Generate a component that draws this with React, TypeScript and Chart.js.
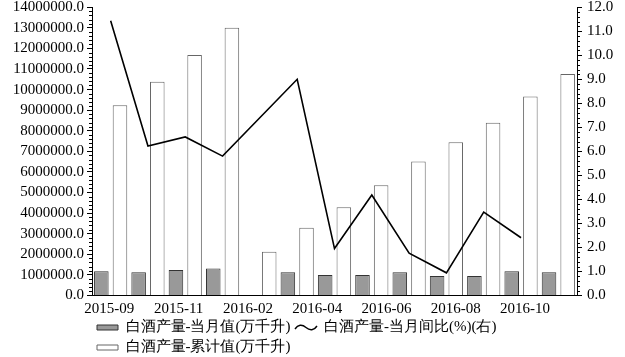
import React, { useEffect, useRef } from "react";
import { Chart, registerables } from "chart.js";

Chart.register(...registerables);

const categories = ["2015-09", "2015-10", "2015-11", "2015-12", "2016-02", "2016-03", "2016-04", "2016-05", "2016-06", "2016-07", "2016-08", "2016-09", "2016-10"];
const tickLabels = ["2015-09", "", "2015-11", "", "2016-02", "", "2016-04", "", "2016-06", "", "2016-08", "", "2016-10", ""];
const monthlyValues = [1170000, 1120000, 1230000, 1310000, null, 1120000, 990000, 990000, 1130000, 940000, 940000, 1170000, 1120000];
const cumulativeValues = [9240000, 10380000, 11680000, 13010000, 2120000, 3290000, 4280000, 5350000, 6500000, 7440000, 8390000, 9660000, 10760000];
const yoyValues = [11.44, 6.22, 6.6, 5.8, null, 9.0, 1.95, 4.18, 1.76, 0.94, 3.47, 2.4, null];

const seriesNames = ["白酒产量-当月值(万千升)", "白酒产量-当月间比(%)(右)", "白酒产量-累计值(万千升)"];

const FONT = '"Liberation Serif", "Times New Roman", Times, serif';

const minorTicks = {
  id: "minorTicks",
  afterDraw(chart: any) {
    const { ctx, chartArea } = chart;
    const y = chart.scales.y;
    const y1 = chart.scales.y1;
    ctx.save();
    ctx.strokeStyle = "#000";
    ctx.lineWidth = 1;
    ctx.beginPath();
    for (let i = 0; i <= 70; i++) {
      if (i % 5 === 0) continue;
      const py = Math.round(y.getPixelForValue(i * 200000)) + 0.5;
      ctx.moveTo(chartArea.left - 3, py);
      ctx.lineTo(chartArea.left, py);
    }
    for (let i = 0; i <= 60; i++) {
      if (i % 5 === 0) continue;
      const py = Math.round(y1.getPixelForValue(i * 0.2)) + 0.5;
      ctx.moveTo(chartArea.right, py);
      ctx.lineTo(chartArea.right + 3, py);
    }
    ctx.stroke();
    ctx.restore();
  },
};

function makeWave() {
  const c = document.createElement("canvas");
  c.width = 24;
  c.height = 9;
  const g = c.getContext("2d")!;
  g.strokeStyle = "#000";
  g.lineWidth = 1.4;
  g.beginPath();
  g.moveTo(1, 6);
  g.bezierCurveTo(4, 1.5, 8, 1, 12, 4.5);
  g.bezierCurveTo(16, 8, 20, 7.5, 23, 3);
  g.stroke();
  return c;
}

export default function App() {
  const ref = useRef<HTMLCanvasElement>(null);

  useEffect(() => {
    const wave = makeWave();
    const chart = new Chart(ref.current!, {
      type: "bar",
      data: {
        labels: categories,
        datasets: [
          {
            type: "bar",
            label: seriesNames[0],
            data: monthlyValues,
            backgroundColor: "#999999",
            borderColor: "#333333",
            borderWidth: 1,
            categoryPercentage: 1,
            barPercentage: 0.78,
            xAxisID: "x",
            yAxisID: "y",
          },
          {
            type: "line",
            label: seriesNames[1],
            data: yoyValues,
            borderColor: "#000000",
            backgroundColor: "#000000",
            borderWidth: 1.6,
            pointRadius: 0,
            tension: 0,
            spanGaps: true,
            xAxisID: "x",
            yAxisID: "y1",
          },
          {
            type: "bar",
            label: seriesNames[2],
            data: cumulativeValues,
            backgroundColor: "#ffffff",
            borderColor: "#666666",
            borderWidth: 1,
            categoryPercentage: 1,
            barPercentage: 0.78,
            xAxisID: "x",
            yAxisID: "y",
          },
        ] as any,
      },
      options: {
        responsive: false,
        animation: false,
        layout: { padding: { left: 9.75, right: 6.75, top: 0, bottom: -8 } },
        plugins: {
          tooltip: { enabled: false },
          legend: {
            position: "bottom",
            align: "start",
            fullSize: false,
            labels: {
              usePointStyle: true,
              pointStyleWidth: 21,
              boxHeight: 5,
              padding: 5,
              color: "#000",
              font: { family: FONT, size: 15 },
              generateLabels(ch: any) {
                const items = Chart.defaults.plugins.legend.labels.generateLabels(ch);
                return items.map((it: any, i: number) => {
                  it.pointStyle = i === 1 ? wave : "rect";
                  it.lineWidth = 1;
                  return it;
                });
              },
            },
          },
        },
        scales: {
          x: {
            type: "category",
            display: false,
            offset: true,
          },
          x2: {
            type: "category",
            labels: tickLabels,
            position: "bottom",
            offset: true,
            grid: { display: true, drawTicks: true, tickLength: 8.5, drawOnChartArea: false, color: "rgba(0,0,0,0)", tickColor: "rgba(0,0,0,0)" },
            border: { display: true, color: "#000", width: 1 },
            ticks: {
              autoSkip: false,
              maxRotation: 0,
              minRotation: 0,
              padding: 0,
              color: "#000",
              font: { family: FONT, size: 15, lineHeight: 0.74 },
            },
          },
          y: {
            type: "linear",
            position: "left",
            min: 0,
            max: 14000000,
            grid: { drawOnChartArea: false, drawTicks: true, tickLength: 5, color: "#000" },
            border: { display: true, color: "#000", width: 1 },
            ticks: {
              stepSize: 1000000,
              autoSkip: false,
              padding: 3,
              color: "#000",
              font: { family: FONT, size: 15, lineHeight: 0.3 },
              callback: (v: any) => Number(v).toFixed(1),
            },
          },
          y1: {
            type: "linear",
            position: "right",
            min: 0,
            max: 12,
            grid: { drawOnChartArea: false, drawTicks: true, tickLength: 5, color: "#000" },
            border: { display: true, color: "#000", width: 1 },
            ticks: {
              stepSize: 1,
              autoSkip: false,
              padding: 5,
              color: "#000",
              font: { family: FONT, size: 15, lineHeight: 0.3 },
              callback: (v: any) => Number(v).toFixed(1),
            },
          },
        },
      },
      plugins: [minorTicks],
    });
    return () => chart.destroy();
  }, []);

  return (
    <div style={{ position: "absolute", left: 0, top: 0, width: 625, height: 357, background: "#fff" }}>
      <canvas ref={ref} width={625} height={357} />
    </div>
  );
}
